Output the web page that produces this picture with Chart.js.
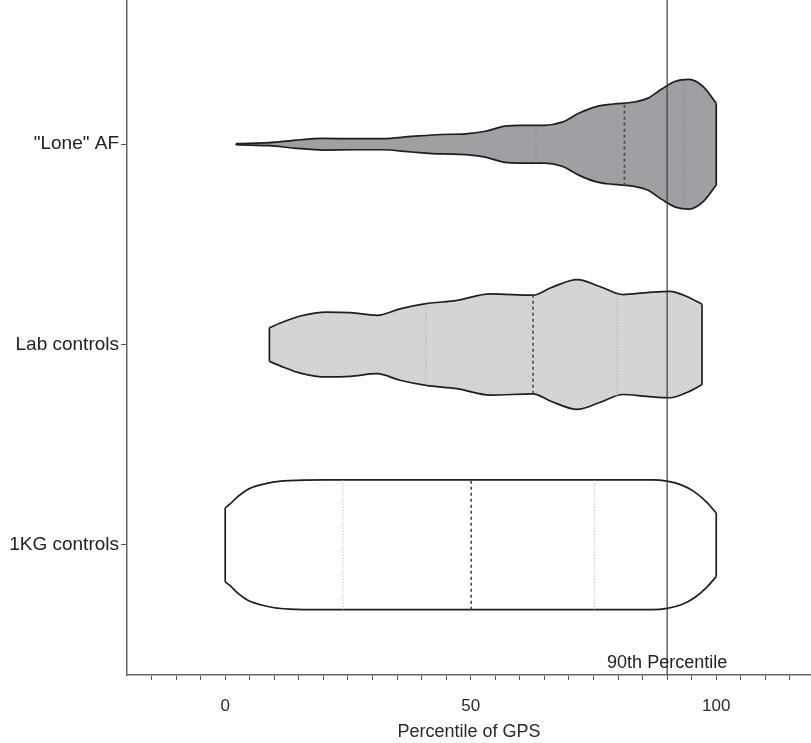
<!DOCTYPE html>
<html>
<head>
<meta charset="utf-8">
<script src="https://cdn.jsdelivr.net/npm/chart.js@4.4.1/dist/chart.umd.min.js"></script>
<style>
  html, body { margin: 0; padding: 0; background: #fff; }
  #wrap { width: 811px; height: 743px; }
</style>
</head>
<body>
<div id="wrap"><canvas id="violins"></canvas></div>
<script>
// categories, bottom to top position on the y axis
const categories = ['"Lone" AF', 'Lab controls', '1KG controls'];
const categoryPos = [3, 2, 1];

// density outline: percentile -> relative width (1 = widest)
const loneX = [2.2, 5, 9, 14, 20, 26, 32, 38, 44, 49, 53, 57, 60, 65, 68.6, 72.1, 75.6, 79.1, 83.3, 86.1, 88.9, 91.7, 94.5, 97.3, 100];
const loneD = [0.008, 0.015, 0.023, 0.06, 0.09, 0.085, 0.085, 0.12, 0.15, 0.16, 0.2, 0.28, 0.29, 0.29, 0.34, 0.48, 0.58, 0.62, 0.65, 0.71, 0.85, 0.97, 1.0, 0.89, 0.63];

const labX = [9.0, 11.9, 15.3, 20.7, 25.5, 30.9, 35.6, 40.9, 47.2, 54, 62.7, 66.2, 71.7, 76.4, 81, 85.9, 90.6, 94, 97.1];
const labD = [0.26, 0.35, 0.44, 0.5, 0.49, 0.45, 0.55, 0.63, 0.68, 0.78, 0.76, 0.87, 1.0, 0.89, 0.77, 0.8, 0.82, 0.74, 0.62];

const kgX = [0, 1, 2.5, 4.5, 7, 10, 13, 20, 30, 40, 50, 60, 70, 80, 87, 90, 93, 95.5, 98, 100];
const kgD = [0.57, 0.63, 0.74, 0.85, 0.92, 0.97, 0.99, 1, 1, 1, 1, 1, 1, 1, 1, 0.98, 0.92, 0.82, 0.66, 0.49];

// quartiles (25th, median, 75th) and the outline width at each
const loneQ = [63.3, 81.3, 93.4];
const loneQD = [0.29, 0.64, 0.99];
const labQ = [40.9, 62.7, 79.8];
const labQD = [0.63, 0.76, 0.79];
const kgQ = [24.0, 50.1, 75.2];
const kgQD = [1, 1, 1];

const xTickLabels = [0, 50, 100];
const refLine = 90;
const refLabel = '90th Percentile';

const FONT = '"Liberation Sans", Arial, sans-serif';
const halfWidth = 0.324; // y units for the widest part of a violin

// light grey crosshatch used for the lab controls
function hatch() {
  const c = document.createElement('canvas');
  c.width = 4; c.height = 4;
  const g = c.getContext('2d');
  g.fillStyle = '#d6d6d6';
  g.fillRect(0, 0, 4, 4);
  g.fillStyle = '#c4c4c4';
  g.fillRect(0, 0, 1, 1);
  g.fillRect(2, 2, 1, 1);
  return g.createPattern(c, 'repeat');
}

const violins = [
  { xs: loneX, ds: loneD, q: loneQ, qd: loneQD, pos: categoryPos[0], fill: '#9f9fa4', q1: '#7a7a7e' },
  { xs: labX, ds: labD, q: labQ, qd: labQD, pos: categoryPos[1], fill: hatch(), q1: '#a0a0a0' },
  { xs: kgX, ds: kgD, q: kgQ, qd: kgQD, pos: categoryPos[2], fill: '#ffffff', q1: '#b0b0b0' },
];

const datasets = [];
const outline = { borderColor: '#1e1e1e', borderWidth: 1.7, pointRadius: 0, cubicInterpolationMode: 'monotone' };

// reference line on top
datasets.push({
  data: [{ x: refLine, y: 0 }, { x: refLine, y: 10 }],
  borderColor: '#3a3a3a', borderWidth: 1.2, pointRadius: 0, fill: false
});

violins.forEach(v => {
  // quartile segments
  v.q.forEach((qx, i) => {
    const w = v.qd[i] * halfWidth;
    const median = i === 1;
    datasets.push({
      data: [{ x: qx, y: v.pos - w }, { x: qx, y: v.pos + w }],
      borderColor: median ? '#4a4a4a' : v.q1,
      borderWidth: median ? 1.6 : 1,
      borderDash: median ? [3, 3] : [1, 2],
      pointRadius: 0, fill: false
    });
  });
  const n = v.xs.length;
  // ends
  datasets.push(Object.assign({}, outline, {
    data: [{ x: v.xs[0], y: v.pos - v.ds[0] * halfWidth }, { x: v.xs[0], y: v.pos + v.ds[0] * halfWidth }],
    fill: false
  }));
  datasets.push(Object.assign({}, outline, {
    data: [{ x: v.xs[n - 1], y: v.pos - v.ds[n - 1] * halfWidth }, { x: v.xs[n - 1], y: v.pos + v.ds[n - 1] * halfWidth }],
    fill: false
  }));
  // upper and lower edge, filled between
  datasets.push(Object.assign({}, outline, {
    data: v.xs.map((x, i) => ({ x: x, y: v.pos + v.ds[i] * halfWidth })),
    backgroundColor: v.fill,
    fill: '+1'
  }));
  datasets.push(Object.assign({}, outline, {
    data: v.xs.map((x, i) => ({ x: x, y: v.pos - v.ds[i] * halfWidth })),
    fill: false
  }));
});

const refText = {
  id: 'refText',
  afterDatasetsDraw(chart) {
    const { ctx, chartArea, scales } = chart;
    ctx.save();
    ctx.font = '18px ' + FONT;
    ctx.fillStyle = '#222';
    ctx.textAlign = 'center';
    ctx.textBaseline = 'alphabetic';
    ctx.fillText(refLabel, scales.x.getPixelForValue(refLine), chartArea.bottom - 7);
    ctx.restore();
  }
};

const xTicks = [];
for (let v = -15; v <= 115; v += 5) xTicks.push(v);

new Chart(document.getElementById('violins'), {
  type: 'line',
  data: { datasets: datasets },
  options: {
    responsive: true,
    maintainAspectRatio: false,
    animation: false,
    layout: { padding: 0 },
    plugins: {
      legend: { display: false },
      tooltip: { enabled: false },
      filler: { drawTime: 'beforeDatasetsDraw' }
    },
    scales: {
      x: {
        type: 'linear',
        min: -20,
        max: 119.3,
        afterBuildTicks: s => { s.ticks = xTicks.map(v => ({ value: v })); },
        afterFit: s => { s.height = 68; s.paddingLeft = 0; s.paddingRight = 0; },
        grid: { drawOnChartArea: false, tickLength: 5, tickColor: '#555', tickWidth: 1 },
        border: { color: '#666', width: 1.5 },
        ticks: {
          autoSkip: false, maxRotation: 0, padding: 16,
          color: '#2a2a2a', font: { family: FONT, size: 17 },
          callback: v => xTickLabels.includes(v) ? String(v) : ''
        },
        title: {
          display: true, text: 'Percentile of GPS', color: '#2a2a2a',
          font: { family: FONT, size: 18 }, padding: { top: 0, bottom: 0 }
        }
      },
      y: {
        type: 'linear',
        min: 0.35,
        max: 3.72,
        afterBuildTicks: s => { s.ticks = categoryPos.map(v => ({ value: v })); },
        afterFit: s => { s.width = 127; s.paddingTop = 0; s.paddingBottom = 0; },
        grid: { drawOnChartArea: false, tickLength: 6, tickColor: '#555', tickWidth: 1 },
        border: { color: '#666', width: 1.5 },
        ticks: {
          autoSkip: false, padding: 2, color: '#222',
          font: { family: FONT, size: 19 },
          callback: v => categories[categoryPos.indexOf(v)] || ''
        }
      }
    }
  },
  plugins: [refText]
});
</script>
</body>
</html>
